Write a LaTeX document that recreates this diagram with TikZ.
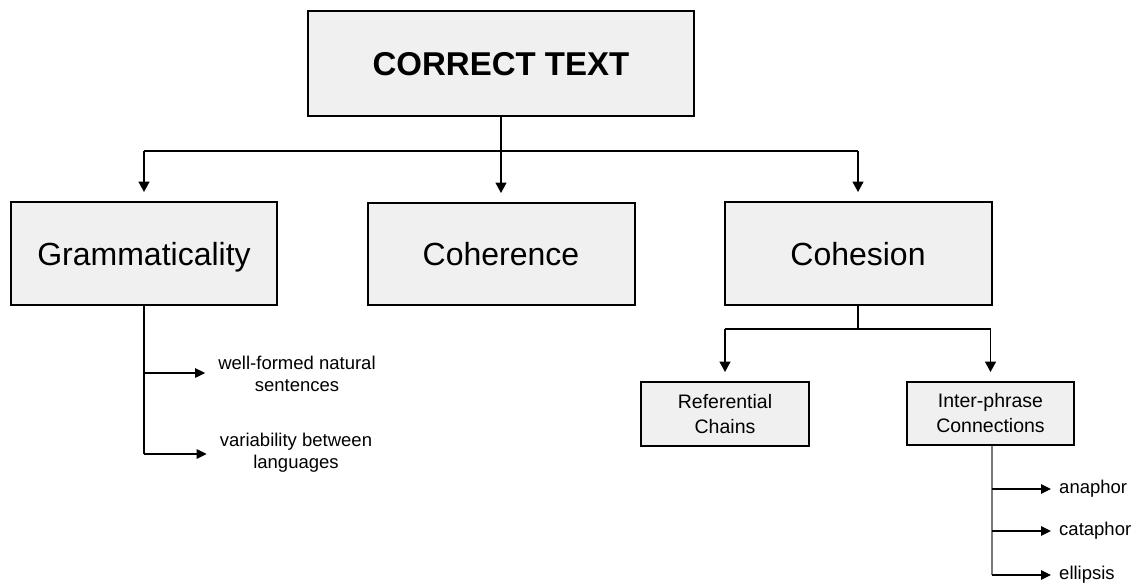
\documentclass[tikz,border=0pt]{standalone}
\usepackage{fontspec}
\setmainfont{Liberation Sans}
\usetikzlibrary{arrows.meta}
\definecolor{boxfill}{HTML}{F0F0F0}
\definecolor{stemgray}{HTML}{7A7A7A}
\begin{document}
\begin{tikzpicture}[x=1pt,y=-1pt,
  box/.style={draw=black, line width=2pt, fill=boxfill, inner sep=0pt, align=center},
  bigtext/.style={font=\fontsize{32}{38}\selectfont, text height=23pt, text depth=0pt},
  conn/.style={line width=1.6pt},
  arr/.style={line width=1.6pt, -{Triangle[width=11pt,length=10.5pt]}},
  thinline/.style={line width=1.1pt},
  tarr/.style={line width=1.1pt, -{Triangle[width=9.5pt,length=10pt]}},
  small/.style={font=\fontsize{18.5}{22}\selectfont, align=center, inner sep=0pt},
]
\useasboundingbox (0,0) rectangle (1145,582);
% boxes
\node[box, minimum width=386pt, minimum height=105pt, font=\bfseries\fontsize{33}{40}\selectfont, text height=23.6pt, text depth=0pt] (title) at (501,63.5) {CORRECT TEXT};
\node[box, bigtext, minimum width=266pt, minimum height=103pt] (gram) at (144,253.5) {Grammaticality};
\node[box, bigtext, minimum width=267pt, minimum height=102pt] (coh) at (501,254) {Coherence};
\node[box, bigtext, minimum width=267pt, minimum height=103pt] (cohs) at (858,253.5) {Cohesion};
\node[box, minimum width=168pt, minimum height=64pt, font=\fontsize{19.5}{25}\selectfont] (ref) at (725,414) {Referential\\Chains};
\node[box, minimum width=167pt, minimum height=63pt, font=\fontsize{19.5}{25}\selectfont] (inter) at (990.5,413.5) {Inter-phrase\\Connections};
% text leaves
\node[small] (wf) at (297,374) {well-formed natural\\sentences};
\node[small] (var) at (296,453) {variability between\\languages};
\node[small, anchor=west] (ana) at (1059,489) {anaphor};
\node[small, anchor=west] (cata) at (1059,531) {cataphor};
\node[small, anchor=west] (ell) at (1059,575) {ellipsis};
% top level connectors
\coordinate (hub) at (501,151);
\draw[conn] (title.south) -- (hub);
\draw[conn] (hub -| gram) -- (hub -| cohs);
\draw[arr] (hub -| gram) -- ([yshift=9pt]gram.north);
\draw[arr] (hub) -- ([yshift=9pt]coh.north);
\draw[arr] (hub -| cohs) -- ([yshift=9pt]cohs.north);
% cohesion connectors
\coordinate (chub) at (858,329);
\draw[conn] (cohs.south) -- (chub);
\draw[conn] (chub -| ref) -- (chub -| inter);
\draw[arr] (chub -| ref) -- ([yshift=9pt]ref.north);
\draw[arr] (chub -| inter) -- ([yshift=9pt]inter.north);
% grammaticality branches
\coordinate (gend) at (144,454);
\draw[thinline] (gram.south) -- (gend);
\draw[tarr] (144,373) -- ([xshift=-13pt]wf.west |- 144,373);
\draw[tarr] (gend) -- ([xshift=-13pt]var.west |- gend);
% inter-phrase branches
\coordinate (iend) at (992,575);
\draw[thinline, draw=stemgray] (inter.south -| iend) -- (iend);
\draw[tarr] (992,489) -- ([xshift=-8pt]ana.west);
\draw[tarr] (992,531) -- ([xshift=-8pt]cata.west);
\draw[tarr] (iend) -- ([xshift=-8pt]ell.west);
\end{tikzpicture}
\end{document}
